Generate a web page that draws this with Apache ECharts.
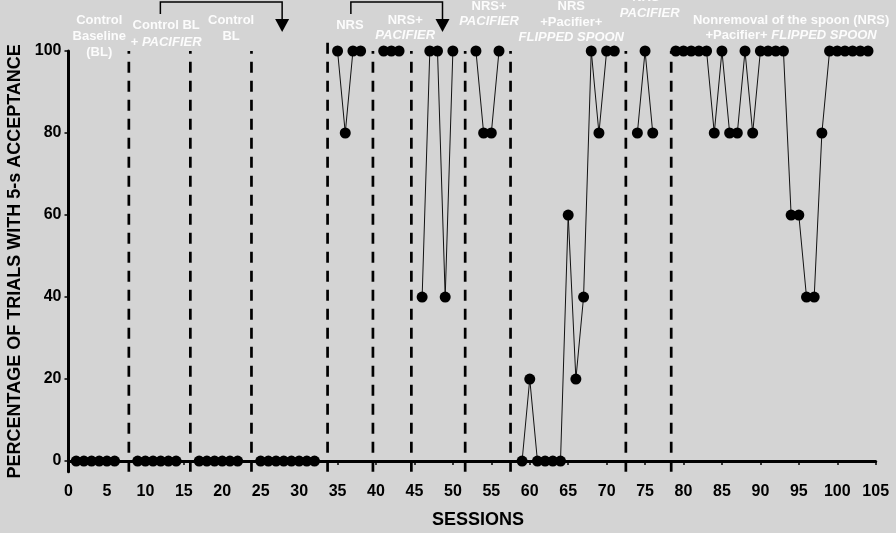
<!DOCTYPE html>
<html><head><meta charset="utf-8">
<script src="https://cdn.jsdelivr.net/npm/echarts@6/dist/echarts.min.js"></script>
<style>html,body{margin:0;padding:0;background:#d4d4d4}#c{width:896px;height:533px}</style>
</head><body><div id="c"></div>
<script>
// Sessions and % of trials with 5-s acceptance, one array per phase
const phaseSessions = [
  [1, 2, 3, 4, 5, 6],
  [9, 10, 11, 12, 13, 14],
  [17, 18, 19, 20, 21, 22],
  [25, 26, 27, 28, 29, 30, 31, 32],
  [35, 36, 37, 38],
  [41, 42, 43],
  [46, 47, 48, 49, 50],
  [53, 54, 55, 56],
  [59, 60, 61, 62, 63, 64, 65, 66, 67, 68, 69, 70, 71],
  [74, 75, 76],
  [79, 80, 81, 82, 83, 84, 85, 86, 87, 88, 89, 90, 91, 92, 93, 94, 95, 96, 97, 98, 99, 100, 101, 102, 103, 104]
];
const phaseValues = [
  [0, 0, 0, 0, 0, 0],
  [0, 0, 0, 0, 0, 0],
  [0, 0, 0, 0, 0, 0],
  [0, 0, 0, 0, 0, 0, 0, 0],
  [100, 80, 100, 100],
  [100, 100, 100],
  [40, 100, 100, 40, 100],
  [100, 80, 80, 100],
  [0, 20, 0, 0, 0, 0, 60, 20, 40, 100, 80, 100, 100],
  [80, 100, 80],
  [100, 100, 100, 100, 100, 80, 100, 80, 80, 100, 80, 100, 100, 100, 100, 60, 60, 40, 40, 80, 100, 100, 100, 100, 100, 100]
];
// Phase-change lines (session positions) and their top value
const phaseLines = [7.85, 15.85, 23.8, 33.7, 39.6, 44.6, 51.6, 57.5, 72.5, 78.4];
const phaseLineTops = [100, 100, 100, 103, 100, 100, 100, 100, 100, 100];
const yTicks = [0, 20, 40, 60, 80, 100];
const yMin = -2.6;

// Phase labels: [center session, y(px), rich text]
const phaseLabels = [
  [4, 20, 'Control'], [4, 36, 'Baseline'], [4, 52, '(BL)'],
  [12.7, 25, 'Control BL'], [12.7, 42, '+ {i|PACIFIER}'],
  [21.15, 20, 'Control'], [21.15, 36, 'BL'],
  [36.6, 25, 'NRS'],
  [43.8, 20, 'NRS+'], [43.8, 35, '{i|PACIFIER}'],
  [54.7, 6, 'NRS+'], [54.7, 21, '{i|PACIFIER}'],
  [65.4, 6, 'NRS'], [65.4, 22, '+Pacifier+'], [65.4, 37, '{i|FLIPPED SPOON}'],
  [75.6, -3, 'NRS+'], [75.6, 13, '{i|PACIFIER}'],
  [94, 20, 'Nonremoval of the spoon (NRS)'], [94, 35, '+Pacifier+ {i|FLIPPED SPOON}']
];
// Brackets with arrows: [left session, right session]
const brackets = [[11.95, 27.79], [36.73, 48.65]];

const FONT = '"Liberation Sans", Arial, Helvetica, sans-serif';
const chart = echarts.init(document.getElementById('c'));

const series = [];
phaseSessions.forEach((ss, i) => {
  series.push({
    type: 'line',
    data: ss.map((s, j) => [s, phaseValues[i][j]]),
    symbol: 'circle', symbolSize: 11,
    itemStyle: { color: '#000' },
    lineStyle: { color: '#111', width: 1 },
    z: 5, silent: true
  });
});
phaseLines.forEach((x, i) => {
  series.push({
    type: 'line',
    data: [[x, yMin], [x, phaseLineTops[i]]],
    symbol: 'none', clip: false, silent: true,
    lineStyle: { color: '#000', width: 2.7, type: [11, 8] },
    z: 3
  });
});

chart.setOption({
  animation: false,
  backgroundColor: '#d4d4d4',
  grid: { left: 68.5, right: 20.3, top: 51, bottom: 61.3, containLabel: false, outerBoundsMode: 'none' },
  xAxis: {
    type: 'value', min: 0, max: 105, interval: 5,
    name: 'SESSIONS', nameLocation: 'middle', nameGap: 39,
    nameTextStyle: { fontFamily: FONT, fontWeight: 'bold', fontSize: 18, color: '#000', padding: [0, 0, 0, 12] },
    axisLine: { lineStyle: { color: '#000', width: 3 } },
    axisTick: { show: true, length: 4, lineStyle: { color: '#000', width: 1.5 } },
    axisLabel: { fontFamily: FONT, fontWeight: 'bold', fontSize: 16, color: '#000', margin: 12 },
    splitLine: { show: false }
  },
  yAxis: {
    type: 'value', min: yMin, max: 100,
    name: 'PERCENTAGE OF TRIALS WITH 5-s ACCEPTANCE', nameLocation: 'middle', nameGap: 34,
    nameTextStyle: { fontFamily: FONT, fontWeight: 'bold', fontSize: 18, color: '#000' },
    axisLine: { show: true, lineStyle: { color: '#000', width: 3 } },
    axisTick: { show: true, length: 4, customValues: yTicks, lineStyle: { color: '#000', width: 1.5 } },
    axisLabel: { fontFamily: FONT, fontWeight: 'bold', fontSize: 16, color: '#000', margin: 7, customValues: yTicks },
    splitLine: { show: false }
  },
  series
});

const px = s => chart.convertToPixel({ xAxisIndex: 0 }, s);
const graphic = [];
phaseLabels.forEach(([s, y, t]) => {
  graphic.push({
    type: 'text', x: px(s), y: y, z: 10, silent: true,
    style: {
      text: t, fill: '#fcfcfc', font: 'bold 13px ' + FONT,
      align: 'center', verticalAlign: 'middle',
      rich: { i: { fontStyle: 'italic', fontWeight: 'bold', fontSize: 13, fontFamily: FONT, fill: '#fcfcfc' } }
    }
  });
});
brackets.forEach(([a, b]) => {
  const xa = px(a), xb = px(b);
  graphic.push({
    type: 'polyline', silent: true, z: 10,
    shape: { points: [[xa, 14], [xa, 2], [xb, 2], [xb, 20]] },
    style: { stroke: '#000', lineWidth: 1.5, fill: null }
  });
  graphic.push({
    type: 'polygon', silent: true, z: 10,
    shape: { points: [[xb - 7, 19], [xb + 7, 19], [xb, 32]] },
    style: { fill: '#000' }
  });
});
chart.setOption({ graphic });
</script>
</body></html>
